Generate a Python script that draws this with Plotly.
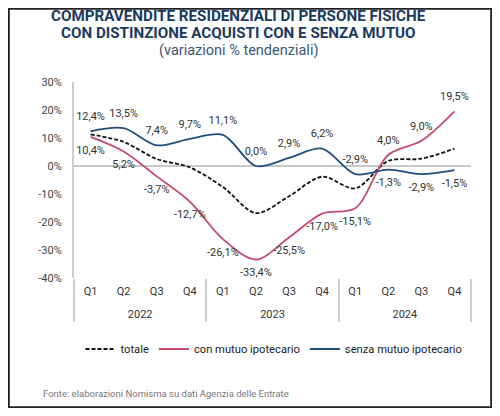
import plotly.graph_objects as go

# dati (variazioni % tendenziali)
anni = ["2022"] * 4 + ["2023"] * 4 + ["2024"] * 4
trimestri = ["Q1", "Q2", "Q3", "Q4"] * 3

totale = [11.3, 8.6, 2.5, -0.5, -7.5, -16.8, -10.8, -3.8, -8.0, 1.8, 2.6, 6.2]
con_mutuo = [10.4, 5.2, -3.7, -12.7, -26.1, -33.4, -25.5, -17.0, -15.1, 4.0, 9.0, 19.5]
senza_mutuo = [12.4, 13.5, 7.4, 9.7, 11.1, 0.0, 2.9, 6.2, -2.9, -1.3, -2.9, -1.5]

pos_con = ["bottom center"] * 9 + ["top center"] * 3
pos_senza = ["top center"] * 9 + ["bottom center"] * 3

y_ticks = [30, 20, 10, 0, -10, -20, -30, -40]
y_labels = [str(v) + "%" for v in y_ticks]

BLU = "#1f4e7c"
ROSSO = "#c54c6f"
TITOLO = "#1c3a5e"

# la pagina html ha 8px di margine: la figura sta in 484x400
OFF = 8
W, H = 500 - 2 * OFF, 416 - 2 * OFF
ML, MT = 74 - OFF, 82 - OFF
MR, MB = W - (471 - OFF), H - (278 - OFF)
PW = W - ML - MR
PH = H - MT - MB


def fmt(v):
    return ("%.1f%%" % v).replace(".", ",")


def py(px):
    # pixel della pagina (verticale) -> coordinata paper
    return 1 + (MT - (px - OFF)) / PH


def px_x(px):
    return (px - OFF - ML) / PW


# piccola riga vuota sotto i trimestri per distanziare gli anni
x = [anni, [q + "<br><span style='font-size:7px'>&nbsp;</span>" for q in trimestri]]

fig = go.Figure()
fig.add_trace(go.Scatter(x=x, y=totale, mode="lines", name="totale",
                         line=dict(color="#111111", width=1.8, dash="4px,2px", shape="spline", smoothing=0.9)))
fig.add_trace(go.Scatter(x=x, y=con_mutuo, mode="lines", name="con mutuo ipotecario",
                         line=dict(color=ROSSO, width=1.8, shape="spline", smoothing=0.9)))
fig.add_trace(go.Scatter(x=x, y=senza_mutuo, mode="lines", name="senza mutuo ipotecario",
                         line=dict(color=BLU, width=1.8, shape="spline", smoothing=0.9)))

# etichette dei valori
for vals, pos in [(con_mutuo, pos_con), (senza_mutuo, pos_senza)]:
    fig.add_trace(go.Scatter(x=x, y=vals, mode="markers+text", text=[fmt(v) for v in vals],
                             textposition=pos, marker=dict(size=12, opacity=0),
                             textfont=dict(size=11, color="#333333", family="Roboto"),
                             showlegend=False, hoverinfo="skip"))

fig.update_layout(
    width=W, height=H,
    margin=dict(l=ML, r=MR, t=MT, b=MB, autoexpand=False),
    paper_bgcolor="white", plot_bgcolor="white",
    font=dict(family="Roboto", size=11, color="#333333"),
    showlegend=True,
    legend=dict(orientation="h", x=px_x(274), xanchor="center", y=py(349), yanchor="middle",
                font=dict(size=11.2, color="#222222"), traceorder="normal"),
)

fig.update_xaxes(type="multicategory", range=[-0.5, 11.5], showgrid=False, showline=False, ticks="",
                 showdividers=True, dividercolor="#cccccc", dividerwidth=2, automargin=False,
                 ticklabelstandoff=5, tickfont=dict(size=11, color="#333333"))
fig.update_yaxes(range=[-40, 30], tickvals=y_ticks, ticktext=y_labels, showgrid=False,
                 showline=True, linecolor="#cccccc", linewidth=2, automargin=False,
                 zeroline=True, zerolinecolor="#c8c8c8", zerolinewidth=1.5,
                 ticks="", ticklabelstandoff=8, tickfont=dict(size=11, color="#444444"))

# titolo
fig.add_annotation(text="<b>COMPRAVENDITE RESIDENZIALI DI PERSONE FISICHE</b>", xref="paper", yref="paper",
                   x=px_x(238), y=py(16), xanchor="center", yanchor="middle", showarrow=False,
                   font=dict(size=15.2, color=TITOLO, family="Roboto"))
fig.add_annotation(text="<b>CON DISTINZIONE ACQUISTI CON E SENZA MUTUO</b>", xref="paper", yref="paper",
                   x=px_x(238), y=py(33), xanchor="center", yanchor="middle", showarrow=False,
                   font=dict(size=15.2, color=TITOLO, family="Roboto"))
fig.add_annotation(text="(variazioni % tendenziali)", xref="paper", yref="paper",
                   x=px_x(238), y=py(50), xanchor="center", yanchor="middle", showarrow=False,
                   font=dict(size=14.5, color="#3d5573", family="Roboto"))
fig.add_annotation(text="Fonte: elaborazioni Nomisma su dati Agenzia delle Entrate", xref="paper", yref="paper",
                   x=px_x(41), y=py(393), xanchor="left", yanchor="middle", showarrow=False,
                   font=dict(size=9.5, color="#777777", family="Roboto"))

# cornice scura lungo il bordo della figura
fig.add_shape(type="rect", xref="paper", yref="paper",
              x0=-ML / PW + 0.002, x1=1 + MR / PW - 0.002, y0=-MB / PH + 0.004, y1=1 + MT / PH - 0.004,
              line=dict(color="#222222", width=2), fillcolor="rgba(0,0,0,0)")

fig.write_html("out.html")
